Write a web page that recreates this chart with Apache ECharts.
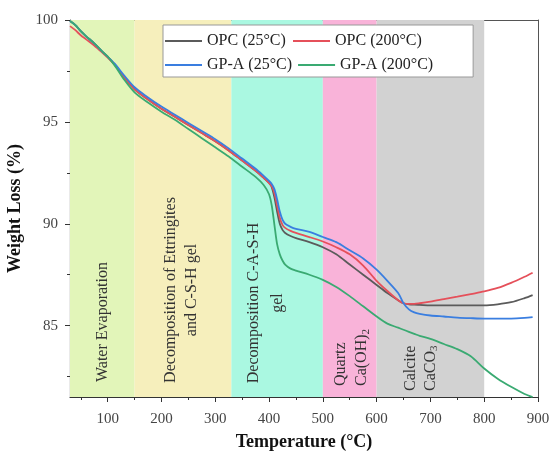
<!DOCTYPE html>
<html>
<head>
<meta charset="utf-8">
<script src="https://cdn.jsdelivr.net/npm/echarts@6/dist/echarts.min.js"></script>
<style>
html,body{margin:0;padding:0;background:#fff;}
#chart{width:551px;height:459px;}
</style>
</head>
<body>
<div id="chart"></div>
<script>
// ---- data ----
const temps = [30,40,50,60,75,90,100,115,130,150,175,200,225,250,275,300,325,350,375,390,400,405,410,415,420,425,430,440,450,475,500,525,550,575,600,620,640,650,660,670,680,700,725,750,775,800,825,850,875,890];
const opc25 = [99.95,99.75,99.45,99.2,98.85,98.45,98.2,97.75,97.2,96.6,96.1,95.65,95.25,94.85,94.45,94.05,93.6,93.1,92.6,92.25,92.0,91.8,91.3,90.6,90.0,89.7,89.55,89.4,89.3,89.1,88.85,88.5,88.0,87.5,87.0,86.6,86.25,86.1,86.05,86.03,86.02,86.0,86.0,86.0,86.0,86.0,86.05,86.15,86.35,86.5];
const opc200 = [99.7,99.5,99.25,99.05,98.75,98.4,98.15,97.75,97.2,96.6,96.1,95.65,95.25,94.85,94.45,94.05,93.6,93.1,92.6,92.25,92.0,91.85,91.5,90.9,90.3,89.95,89.8,89.65,89.55,89.35,89.13,88.85,88.5,87.95,87.2,86.7,86.25,86.1,86.07,86.07,86.1,86.18,86.3,86.42,86.55,86.68,86.85,87.1,87.4,87.6];
const gpa25 = [99.95,99.75,99.45,99.2,98.85,98.45,98.2,97.8,97.3,96.7,96.2,95.75,95.35,94.95,94.55,94.15,93.7,93.2,92.7,92.35,92.1,91.95,91.7,91.2,90.6,90.2,90.0,89.85,89.75,89.6,89.35,89.1,88.7,88.3,87.75,87.2,86.6,86.1,85.8,85.65,85.58,85.5,85.45,85.4,85.37,85.35,85.35,85.35,85.38,85.42];
const gpa200 = [99.95,99.75,99.45,99.2,98.85,98.45,98.2,97.7,97.1,96.45,95.95,95.5,95.1,94.65,94.2,93.75,93.3,92.8,92.3,91.9,91.45,90.9,89.95,89.0,88.5,88.2,88.0,87.8,87.7,87.5,87.25,86.9,86.45,85.95,85.45,85.1,84.9,84.8,84.7,84.6,84.5,84.35,84.1,83.85,83.5,82.9,82.4,82.0,81.65,81.5];
const seriesNames = ['OPC (25°C)','OPC (200°C)','GP-A (25°C)','GP-A (200°C)'];
const bandStart = [30,150,330,500,600];
const bandEnd = [150,330,500,600,800];
const xTickLabels = [100,200,300,400,500,600,700,800,900];
const xMinorTicks = [50,150,250,350,450,550,650,750,850];
const yTickLabels = [85,90,95,100];
const yMinorTicks = [82.5,87.5,92.5,97.5];

// ---- styles ----
const FONT = '"Liberation Serif", "Times New Roman", serif';
const lineColors = ['#5b5b5b','#e5505a','#3a7ee0','#3aaa72'];
const bandColors = ['#e2f5b9','#f6efbc','#aaf8e1','#f9b3d9','#d2d2d2'];

const chart = echarts.init(document.getElementById('chart'));
const allVals = [opc25, opc200, gpa25, gpa200];

const series = allVals.map((vals, i) => ({
  name: seriesNames[i],
  type: 'line',
  xAxisIndex: 0, yAxisIndex: 0,
  data: temps.map((t, j) => [t, vals[j]]),
  smooth: 0.3,
  symbol: 'none',
  z: 5,
  lineStyle: {color: lineColors[i], width: 1.8},
  itemStyle: {color: lineColors[i]}
}));
series.unshift({
  name: 'bands', type: 'line', data: [], z: 1, silent: true,
  symbol: 'none',
  markArea: {
    silent: true,
    data: bandStart.map((s, i) => [
      {xAxis: s, itemStyle: {color: bandColors[i], opacity: 1}},
      {xAxis: bandEnd[i]}
    ])
  }
});

const axisLabelStyle = {fontFamily: FONT, fontSize: 15, color: '#444'};
const nameStyle = {fontFamily: FONT, fontSize: 18, fontWeight: 'bold', color: '#111'};

chart.setOption({
  animation: false,
  grid: {left: 70, right: 13, top: 20, bottom: 62, outerBoundsMode: 'none', containLabel: false},
  legend: {
    data: seriesNames,
    left: 163, top: 25,
    width: 270,
    orient: 'horizontal',
    icon: 'rect',
    itemWidth: 37, itemHeight: 2,
    itemGap: 6,
    padding: [7, 40, 3, 2],
    backgroundColor: '#fff',
    borderColor: '#999', borderWidth: 1, borderRadius: 0,
    textStyle: {fontFamily: FONT, fontSize: 16, color: '#222', width: 80, overflow: 'none', lineHeight: 18}
  },
  xAxis: [
    {type: 'value', min: 30, max: 900, position: 'bottom',
     name: 'Temperature (°C)', nameLocation: 'middle', nameGap: 36, nameTextStyle: nameStyle,
     splitLine: {show: false},
     axisLine: {show: true, lineStyle: {color: '#333', width: 1.2}},
     axisTick: {show: true, inside: false, length: 5, customValues: xTickLabels, lineStyle: {color: '#333'}},
     axisLabel: {customValues: xTickLabels, margin: 15, ...axisLabelStyle}},
    {type: 'value', min: 30, max: 900, position: 'bottom',
     splitLine: {show: false},
     axisLine: {show: false},
     axisTick: {show: true, inside: false, length: 3, customValues: xMinorTicks, lineStyle: {color: '#333'}},
     axisLabel: {show: false}},
    {type: 'value', min: 30, max: 900, position: 'top',
     splitLine: {show: false},
     axisLine: {show: true, lineStyle: {color: '#555', width: 1}},
     axisTick: {show: false}, axisLabel: {show: false}}
  ],
  yAxis: [
    {type: 'value', min: 81.5, max: 100, position: 'left',
     name: 'Weight Loss (%)', nameLocation: 'middle', nameGap: 39, nameTextStyle: nameStyle,
     splitLine: {show: false},
     axisLine: {show: true, lineStyle: {color: '#333', width: 1.2}},
     axisTick: {show: true, inside: false, length: 5, customValues: yTickLabels, lineStyle: {color: '#333'}},
     axisLabel: {customValues: yTickLabels, margin: 12, ...axisLabelStyle}},
    {type: 'value', min: 81.5, max: 100, position: 'left',
     splitLine: {show: false},
     axisLine: {show: false},
     axisTick: {show: true, inside: false, length: 3, customValues: yMinorTicks, lineStyle: {color: '#333'}},
     axisLabel: {show: false}},
    {type: 'value', min: 81.5, max: 100, position: 'right',
     splitLine: {show: false},
     axisLine: {show: true, lineStyle: {color: '#555', width: 1}},
     axisTick: {show: false}, axisLabel: {show: false}}
  ],
  series: series
});

// ---- rotated band labels ----
const txt = {fontFamily: FONT, fontSize: 16, fill: '#333'};
const rot = Math.PI / 2;
chart.setOption({
  graphic: {elements: [
    {type: 'text', x: 102.5, y: 382, rotation: rot, z: 100,
     style: {...txt, text: 'Water Evaporation', align: 'left', verticalAlign: 'middle'}},
    {type: 'text', x: 181.5, y: 290, rotation: rot, z: 100,
     style: {...txt, text: 'Decomposition of Ettringites\nand C-S-H gel', align: 'center', verticalAlign: 'middle', lineHeight: 21}},
    {type: 'text', x: 266, y: 303, rotation: rot, z: 100,
     style: {...txt, text: 'Decomposition C-A-S-H\ngel', align: 'center', verticalAlign: 'middle', lineHeight: 24}},
    {type: 'text', x: 351.5, y: 386, rotation: rot, z: 100,
     style: {...txt, text: '{n|Quartz}\n{n|Ca(OH)}{s|2}', align: 'left', verticalAlign: 'middle', lineHeight: 21,
       rich: {n: {fontFamily: FONT, fontSize: 16, fill: '#333', lineHeight: 21, verticalAlign: 'middle'},
              s: {fontFamily: FONT, fontSize: 11, fill: '#333', lineHeight: 21, verticalAlign: 'bottom', padding: [0,0,1,0]}}}},
    {type: 'text', x: 421, y: 391, rotation: rot, z: 100,
     style: {...txt, text: '{n|Calcite}\n{n|CaCO}{s|3}', align: 'left', verticalAlign: 'middle', lineHeight: 20,
       rich: {n: {fontFamily: FONT, fontSize: 16, fill: '#333', lineHeight: 20, verticalAlign: 'middle'},
              s: {fontFamily: FONT, fontSize: 11, fill: '#333', lineHeight: 20, verticalAlign: 'bottom', padding: [0,0,1,0]}}}}
  ]}
});
</script>
</body>
</html>
